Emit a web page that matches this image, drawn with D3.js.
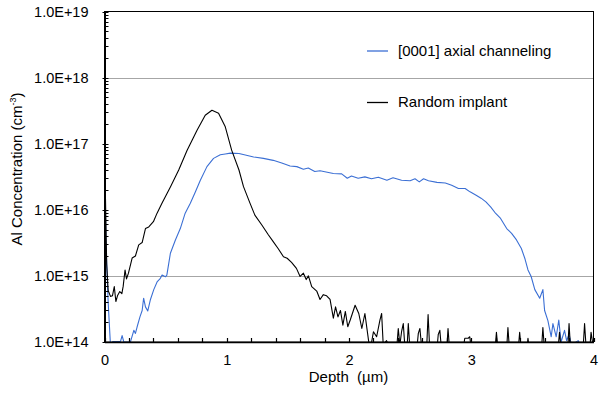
<!DOCTYPE html>
<html>
<head>
<meta charset="utf-8">
<script src="https://cdn.jsdelivr.net/npm/d3@7"></script>
<style>
  html, body { margin: 0; padding: 0; background: #fff; }
  svg { display: block; }
  text { font-family: "Liberation Sans", Arial, sans-serif; fill: #000; }
</style>
</head>
<body>
<svg id="chart" width="610" height="398"></svg>
<script>
// ---------- data ----------
const seriesNames = ["[0001] axial channeling", "Random implant"];
const seriesColors = ["#3b6fd4", "#000000"];

const randomDepth = [
  0.000, 0.008, 0.018, 0.030, 0.049, 0.065, 0.080, 0.093, 0.106, 0.125, 0.142, 0.153, 0.168, 0.180, 0.196,
  0.226, 0.253, 0.280, 0.308, 0.335, 0.362, 0.400, 0.430, 0.470, 0.540, 0.607, 0.675, 0.757, 0.824, 0.879,
  0.933, 0.988, 1.040, 1.100, 1.137, 1.190, 1.230, 1.287, 1.340, 1.380, 1.420, 1.464, 1.494, 1.530, 1.570,
  1.600, 1.627, 1.650, 1.668, 1.695, 1.736, 1.763, 1.790, 1.817, 1.845, 1.872, 1.890, 1.910, 1.930, 1.950,
  1.970, 1.990, 2.010, 2.050, 2.080, 2.105, 2.130, 2.165, 2.185, 2.200, 2.226, 2.253, 2.267, 2.280, 2.307,
  2.335, 2.390, 2.403, 2.416, 2.430, 2.444, 2.458, 2.475, 2.485, 2.498, 2.555, 2.567, 2.580, 2.595, 2.635,
  2.647, 2.660, 2.720, 2.730, 2.743, 2.756, 2.800, 2.810, 2.822, 2.935, 2.947, 2.975, 2.988, 3.000, 3.195,
  3.206, 3.218, 3.290, 3.300, 3.312, 3.385, 3.396, 3.408, 3.455, 3.464, 3.475, 3.575, 3.586, 3.598, 3.710,
  3.722, 3.734, 3.790, 3.800, 3.812, 3.915, 3.927, 3.940, 3.970, 3.980, 4.000
];
const randomConc = [
  1.6e17, 1.5e16, 1.5e15, 6.0e14, 4.9e14, 5.0e14, 6.9e14, 4.1e14, 5.0e14, 5.8e14, 5.4e14, 7.0e14, 1.23e15, 9.0e14, 1.1e15,
  1.86e15, 2.0e15, 2.95e15, 3.2e15, 5.2e15, 5.5e15, 6.6e15, 8.9e15, 1.26e16, 2.24e16, 4.0e16, 7.9e16, 1.6e17, 2.7e17, 3.2e17,
  2.9e17, 1.8e17, 8.0e16, 4.0e16, 2.24e16, 1.26e16, 8.3e15, 5.9e15, 4.2e15, 3.3e15, 2.6e15, 1.95e15, 1.85e15, 1.6e15, 1.3e15,
  9.8e14, 1.1e15, 8.8e14, 1.0e15, 6.9e14, 5.9e14, 4.4e14, 5.2e14, 5.0e14, 4.4e14, 2.3e14, 3.4e14, 2.4e14, 3.0e14, 1.8e14,
  2.9e14, 1.7e14, 2.15e14, 3.6e14, 2.7e14, 1.6e14, 2.7e14, 9.0e13, 1.0e14, 1.43e14, 1.2e14, 2.15e14, 2.7e14, 9.0e13, 1.05e14,
  8.0e13, 8.0e13, 1.6e14, 9.0e13, 1.43e14, 1.9e14, 8.0e13, 8.0e13, 1.9e14, 8.0e13, 8.0e13, 1.35e14, 1.6e14, 8.0e13, 8.0e13,
  2.6e14, 8.0e13, 8.0e13, 1.3e14, 1.5e14, 8.0e13, 8.0e13, 1.6e14, 8.0e13, 8.0e13, 1.14e14, 1.14e14, 1.2e14, 8.0e13, 8.0e13,
  1.4e14, 8.0e13, 8.0e13, 1.65e14, 8.0e13, 8.0e13, 1.4e14, 8.0e13, 8.0e13, 1.14e14, 8.0e13, 8.0e13, 1.65e14, 8.0e13, 8.0e13,
  1.4e14, 8.0e13, 8.0e13, 1.9e14, 8.0e13, 8.0e13, 1.9e14, 8.0e13, 8.0e13, 1.4e14, 8.0e13
];

const channelDepth = [
  0.000, 0.012, 0.030, 0.048, 0.070, 0.090, 0.131, 0.144, 0.158, 0.212, 0.240, 0.253, 0.267, 0.290, 0.308,
  0.320, 0.335, 0.354, 0.376, 0.403, 0.430, 0.457, 0.471, 0.498, 0.510, 0.539, 0.580, 0.620, 0.660, 0.702,
  0.743, 0.784, 0.838, 0.892, 0.947, 0.988, 1.030, 1.100, 1.220, 1.300, 1.380, 1.450, 1.518, 1.573, 1.627,
  1.667, 1.720, 1.763, 1.872, 1.940, 1.986, 2.020, 2.075, 2.130, 2.184, 2.240, 2.310, 2.360, 2.430, 2.500,
  2.540, 2.575, 2.610, 2.650, 2.720, 2.788, 2.840, 2.895, 2.950, 2.990, 3.040, 3.080, 3.120, 3.160, 3.200,
  3.240, 3.290, 3.330, 3.370, 3.410, 3.440, 3.464, 3.490, 3.520, 3.560, 3.586, 3.600, 3.627, 3.654, 3.668,
  3.695, 3.716, 3.735, 3.763, 3.780, 3.800, 3.820, 3.875, 3.900
];
const channelConc = [
  7.0e16, 3.0e15, 4.0e14, 9.5e13, 1.02e14, 1.02e14, 1.02e14, 1.25e14, 1.0e14, 1.0e14, 1.5e14, 1.35e14, 1.7e14, 2.4e14, 3.0e14,
  4.6e14, 3.4e14, 2.95e14, 4.4e14, 6.2e14, 8.1e14, 9.2e14, 1.03e15, 9.7e14, 1.03e15, 2.2e15, 3.5e15, 5.2e15, 8.9e15, 1.26e16,
  1.86e16, 2.8e16, 4.5e16, 6.0e16, 6.8e16, 7.0e16, 7.2e16, 7.1e16, 6.3e16, 6.0e16, 5.6e16, 5.1e16, 4.6e16, 4.5e16, 4.1e16,
  4.3e16, 3.8e16, 3.9e16, 3.55e16, 3.5e16, 3.0e16, 3.25e16, 3.0e16, 3.15e16, 2.95e16, 3.1e16, 2.8e16, 3.05e16, 2.8e16, 2.75e16,
  2.95e16, 2.65e16, 2.95e16, 2.75e16, 2.6e16, 2.55e16, 2.35e16, 2.1e16, 2.1e16, 1.87e16, 1.66e16, 1.5e16, 1.32e16, 1.1e16, 8.8e15,
  7.4e15, 5.2e15, 4.4e15, 3.5e15, 2.6e15, 1.8e15, 1.23e15, 9.8e14, 6.2e14, 4.6e14, 6.2e14, 3.0e14, 2.1e14, 1.2e14, 1.9e14,
  1.2e14, 2.15e14, 1.0e14, 1.5e14, 1.05e14, 1.3e14, 9.0e13, 1.05e14, 8.0e13
];

const yTickValues = [1e14, 1e15, 1e16, 1e17, 1e18, 1e19];
const yTickLabels = ["1.0E+14", "1.0E+15", "1.0E+16", "1.0E+17", "1.0E+18", "1.0E+19"];
const yGridValues = [1e15, 1e18];
const xTickValues = [0, 1, 2, 3, 4];
const xMinorTicks = [0.2, 0.4, 0.6, 0.8, 1.2, 1.4, 1.6, 1.8, 2.2, 2.4, 2.6, 2.8, 3.2, 3.4, 3.6, 3.8];

// ---------- layout ----------
const svg = d3.select("#chart");
const pLeft = 104.5, pRight = 593.5, pTop = 11.5, pBottom = 342;
const x = d3.scaleLinear().domain([0, 4]).range([pLeft, pRight]);
const y = d3.scaleLog().domain([1e14, 1e19]).range([pBottom, pTop]);

svg.append("rect").attr("width", 610).attr("height", 398).attr("fill", "#fff");

// clip
svg.append("defs").append("clipPath").attr("id", "plotclip")
  .append("rect").attr("x", pLeft).attr("y", pTop).attr("width", pRight - pLeft).attr("height", pBottom - pTop);

// gridlines
svg.append("g").selectAll("line").data(yGridValues).join("line")
  .attr("x1", pLeft).attr("x2", pRight)
  .attr("y1", d => Math.round(y(d)) + 0.5).attr("y2", d => Math.round(y(d)) + 0.5)
  .attr("stroke", "#a6a6a6").attr("stroke-width", 1);

// lines
const line = d3.line().x(d => x(d[0])).y(d => y(d[1]));
const chanData = channelDepth.map((d, i) => [d, channelConc[i]]);
const randData = randomDepth.map((d, i) => [d, randomConc[i]]);
const gLines = svg.append("g").attr("clip-path", "url(#plotclip)");
gLines.append("path").datum(chanData).attr("d", line)
  .attr("fill", "none").attr("stroke", seriesColors[0]).attr("stroke-width", 1.1).attr("stroke-linejoin", "round");
gLines.append("path").datum(randData).attr("d", line)
  .attr("fill", "none").attr("stroke", seriesColors[1]).attr("stroke-width", 1.1).attr("stroke-linejoin", "round");

// frame
svg.append("rect").attr("x", pLeft).attr("y", pTop).attr("width", pRight - pLeft).attr("height", pBottom - pTop)
  .attr("fill", "none").attr("stroke", "#000").attr("stroke-width", 1);

// y axis (log) with inward minor ticks
const yAxis = d3.axisLeft(y).tickValues(yTickValues)
  .tickFormat((d, i) => yTickLabels[i]).tickSize(0).tickPadding(16);
const gy = svg.append("g").attr("transform", `translate(${pLeft},0)`).call(yAxis);
gy.select(".domain").attr("stroke", "#000").attr("stroke-width", 2);
gy.selectAll("text").attr("font-size", "14.5px").attr("font-family", "Liberation Sans, Arial, sans-serif");

const minor = [];
for (let e = 14; e < 19; e++) for (let m = 1; m <= 9; m++) minor.push(m * Math.pow(10, e));
minor.push(1e19);
svg.append("g").selectAll("line").data(minor).join("line")
  .attr("x1", d => (Math.abs(Math.log10(d) % 1) < 1e-9 ? pLeft - 2 : pLeft))
  .attr("x2", pLeft + 4)
  .attr("y1", d => Math.round(y(d)) + 0.5).attr("y2", d => Math.round(y(d)) + 0.5)
  .attr("stroke", "#000").attr("stroke-width", 1);

// x axis
const xAxis = d3.axisBottom(x).tickValues(xTickValues).tickFormat(d3.format("d")).tickSize(0).tickPadding(13);
const gx = svg.append("g").attr("transform", `translate(0,${pBottom})`).call(xAxis);
gx.select(".domain").attr("stroke", "#000").attr("stroke-width", 1.5);
gx.selectAll("text").attr("font-size", "14.5px").attr("font-family", "Liberation Sans, Arial, sans-serif");
svg.append("g").selectAll("line").data(xMinorTicks.concat(xTickValues)).join("line")
  .attr("x1", d => Math.round(x(d)) + 0.5).attr("x2", d => Math.round(x(d)) + 0.5)
  .attr("y1", pBottom).attr("y2", pBottom - 4)
  .attr("stroke", "#000").attr("stroke-width", 1.2);

// axis titles
svg.append("text").attr("x", 348.5).attr("y", 382).attr("text-anchor", "middle")
  .attr("font-size", "15px").text("Depth\u00a0 (\u00b5m)");

const yl = svg.append("text").attr("transform", "translate(22,169) rotate(-90)")
  .attr("text-anchor", "middle").attr("font-size", "15px");
yl.append("tspan").text("Al Concentration (cm");
yl.append("tspan").attr("dy", -6).attr("font-size", "9px").text("-3");
yl.append("tspan").attr("dy", 6).text(")");

// legend
const legendY = [51, 102.5];
const legendTextY = [55.5, 107];
const lg = svg.append("g");
seriesNames.forEach((name, i) => {
  lg.append("line").attr("x1", 367).attr("x2", 388)
    .attr("y1", legendY[i]).attr("y2", legendY[i])
    .attr("stroke", seriesColors[i]).attr("stroke-width", 1.3);
  lg.append("text").attr("x", 398).attr("y", legendTextY[i])
    .attr("font-size", "15px").text(name);
});
</script>
</body>
</html>
